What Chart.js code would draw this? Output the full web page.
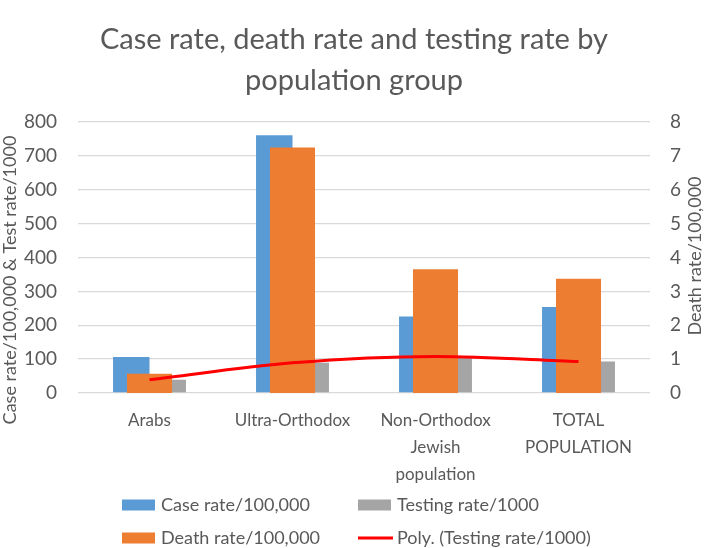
<!DOCTYPE html>
<html>
<head>
<meta charset="utf-8">
<script src="https://cdn.jsdelivr.net/npm/chart.js@4/dist/chart.umd.min.js"></script>
<style>
  html, body { margin: 0; padding: 0; background: #fff; }
  #wrap { width: 709px; height: 548px; position: relative; }
</style>
</head>
<body>
<div id="wrap"><canvas id="myChart" width="709" height="548"></canvas></div>
<script>
"use strict";

// values
var groups = [['Arabs'], ['Ultra-Orthodox'], ['Non-Orthodox', 'Jewish', 'population'], ['TOTAL', 'POPULATION']];
var caseRate = [106, 761, 226, 254];
var deathRate = [0.57, 7.25, 3.65, 3.37];
var testingRate = [39, 89, 108, 93];
var testingTrend = [39, 89, 108, 93];
var leftTicks = [0, 100, 200, 300, 400, 500, 600, 700, 800];
var rightTicks = [0, 1, 2, 3, 4, 5, 6, 7, 8];

var TEXT = '#595959';
var FONT = 'Lato, "Open Sans", sans-serif';

var legendItems = [
    { label: 'Case rate/100,000', color: '#5B9BD5', kind: 'box', x: 122, y: 505 },
    { label: 'Testing rate/1000', color: '#A5A5A5', kind: 'box', x: 358, y: 505 },
    { label: 'Death rate/100,000', color: '#ED7D31', kind: 'box', x: 122, y: 538 },
    { label: 'Poly. (Testing rate/1000)', color: '#FF0000', kind: 'line', x: 358, y: 538 }
];

// title, axis titles and legend drawn by hand so they sit where Excel put them
var decorations = {
    id: 'decorations',
    afterDraw: function (chart) {
        var ctx = chart.ctx;
        ctx.save();
        ctx.fillStyle = TEXT;
        ctx.textAlign = 'center';
        ctx.textBaseline = 'middle';
        ctx.font = '29px ' + FONT;
        ctx.fillText('Case rate, death rate and testing rate by', 354, 40);
        ctx.fillText('population group', 354, 81);

        ctx.font = '18px ' + FONT;
        ctx.save();
        ctx.translate(10, 280);
        ctx.rotate(-Math.PI / 2);
        ctx.fillText('Case rate/100,000 & Test rate/1000', 0, 0);
        ctx.restore();
        ctx.save();
        ctx.translate(695, 256);
        ctx.rotate(-Math.PI / 2);
        ctx.fillText('Death rate/100,000', 0, 0);
        ctx.restore();

        ctx.textAlign = 'left';
        legendItems.forEach(function (item) {
            if (item.kind === 'box') {
                ctx.fillStyle = item.color;
                ctx.fillRect(item.x, item.y - 5.5, 33, 11);
            } else {
                ctx.strokeStyle = item.color;
                ctx.lineWidth = 3;
                ctx.beginPath();
                ctx.moveTo(item.x, item.y);
                ctx.lineTo(item.x + 35, item.y);
                ctx.stroke();
            }
            ctx.fillStyle = TEXT;
            ctx.fillText(item.label, item.x + 39, item.y);
        });
        ctx.restore();
    }
};

var salesChart = new Chart(document.getElementById('myChart'), {
    type: 'bar',
    data: {
        labels: groups,
        datasets: [
            {
                label: 'Poly. (Testing rate/1000)',
                type: 'line',
                data: testingTrend,
                yAxisID: 'y',
                borderColor: '#FF0000',
                borderWidth: 3,
                pointRadius: 0,
                cubicInterpolationMode: 'monotone',
                order: 0
            },
            {
                label: 'Death rate/100,000',
                data: deathRate,
                yAxisID: 'y1',
                backgroundColor: '#ED7D31',
                grouped: false,
                categoryPercentage: 0.315,
                barPercentage: 1,
                order: 1
            },
            {
                label: 'Case rate/100,000',
                data: caseRate,
                yAxisID: 'y',
                backgroundColor: '#5B9BD5',
                categoryPercentage: 0.51,
                barPercentage: 1,
                order: 2
            },
            {
                label: 'Testing rate/1000',
                data: testingRate,
                yAxisID: 'y',
                backgroundColor: '#A5A5A5',
                categoryPercentage: 0.51,
                barPercentage: 1,
                order: 2
            }
        ]
    },
    options: {
        responsive: false,
        animation: false,
        layout: { padding: { top: 122, left: 0, right: 0, bottom: 0 } },
        plugins: {
            legend: { display: false },
            title: { display: false },
            tooltip: { enabled: false }
        },
        scales: {
            x: {
                grid: { display: false },
                border: { display: false },
                ticks: {
                    color: TEXT,
                    font: { family: FONT, size: 17, lineHeight: 1.6 },
                    padding: 6,
                    maxRotation: 0,
                    autoSkip: false
                },
                afterFit: function (scale) { scale.height = 155; }
            },
            y: {
                position: 'left',
                min: 0,
                max: 800,
                afterBuildTicks: function (scale) {
                    scale.ticks = leftTicks.map(function (v) { return { value: v }; });
                },
                grid: { color: '#D9D9D9', lineWidth: 1.3, drawTicks: false },
                border: { display: false },
                ticks: { color: TEXT, font: { family: FONT, size: 19 }, padding: 21 },
                afterFit: function (scale) { scale.width = 78; }
            },
            y1: {
                position: 'right',
                min: 0,
                max: 8,
                afterBuildTicks: function (scale) {
                    scale.ticks = rightTicks.map(function (v) { return { value: v }; });
                },
                grid: { display: false, drawTicks: false },
                border: { display: false },
                ticks: { color: TEXT, font: { family: FONT, size: 19 }, padding: 20 },
                afterFit: function (scale) { scale.width = 59; }
            }
        }
    },
    plugins: [decorations]
});
</script>
</body>
</html>
